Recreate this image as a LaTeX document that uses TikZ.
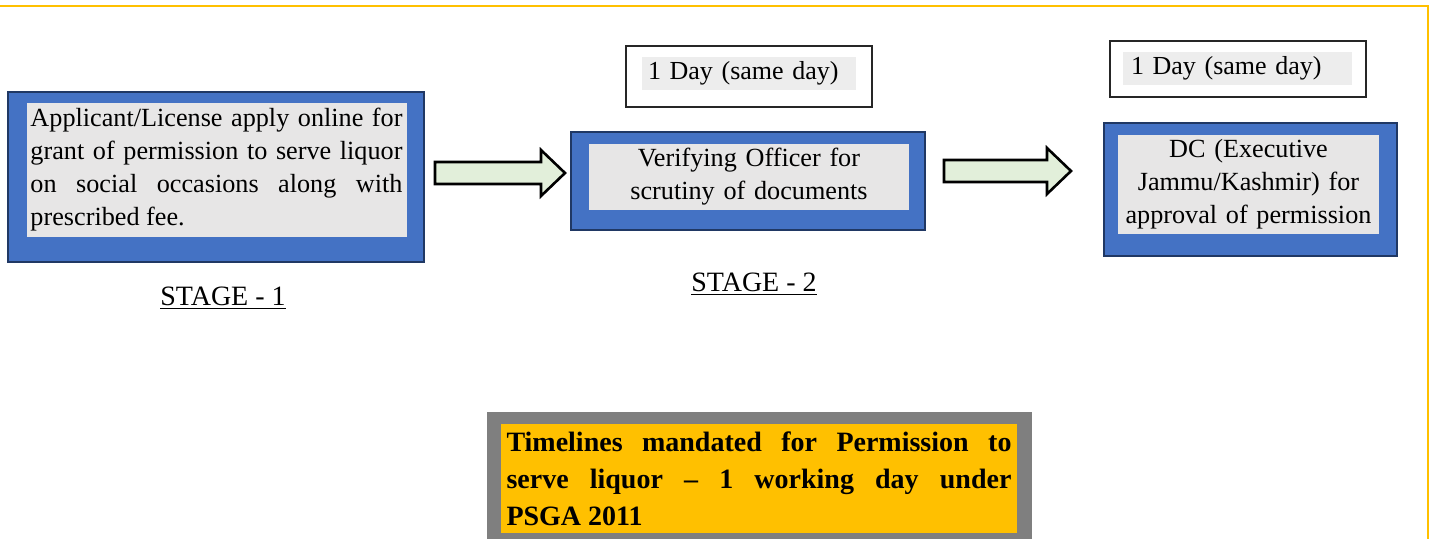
\documentclass[tikz,border=0pt]{standalone}
\usepackage{fontspec}
\setmainfont{Liberation Serif}
\usetikzlibrary{positioning,calc}
\definecolor{boxblue}{HTML}{4472C4}
\definecolor{boxnavy}{HTML}{203864}
\definecolor{boxgrey}{HTML}{E7E6E6}
\definecolor{daygrey}{HTML}{EDEDED}
\definecolor{arrowgreen}{HTML}{E2EFDA}
\definecolor{gold}{HTML}{FFC000}
\definecolor{darkgrey}{HTML}{7F7F7F}

\tikzset{
  stagebox/.style={draw=boxnavy, fill=boxblue, line width=1.2pt, inner sep=0pt},
  stagetext/.style={fill=boxgrey, inner xsep=2pt, inner ysep=0pt,
    font=\fontsize{13.1}{16.5}\selectfont},
  daybox/.style={draw=black!85, line width=0.8pt, inner sep=0pt},
  daytext/.style={fill=daygrey, inner ysep=0pt, align=left,
    font=\fontsize{13}{16.5}\selectfont},
  fatarrow/.style={draw=black, fill=arrowgreen, line width=1.3pt, line join=miter},
  stagelabel/.style={font=\fontsize{14}{17}\selectfont},
  frameline/.style={draw=gold, line width=1pt}
}

\begin{document}
\begin{tikzpicture}[x=0.5pt,y=-0.5pt]
\useasboundingbox (0,0) rectangle (1432,538);
\clip (0,0) rectangle (1432,538);

% frame
\draw[frameline] (0,6) -- (1428,6) -- (1428,540);

% stage 1
\node[stagebox, minimum width=208pt, minimum height=85pt] (s1) at (216,177) {};
\node[stagetext, text width=186pt, minimum height=67pt, align=justify] (s1t) at (216.5,170)
  {Applicant/License apply online for\linebreak grant of permission to serve liquor\linebreak on social occasions along with\linebreak prescribed fee.};
\node[stagelabel] (st1) at (223,298) {\underline{STAGE - 1}};

% stage 2
\node[daybox, minimum width=123pt, minimum height=30.5pt] (d1) at (749,76.5) {};
\node[daytext, text width=101pt, inner xsep=3pt, minimum height=16.5pt] (d1t) at (749,73.5) {1 Day (same day)};
\node[stagebox, minimum width=177pt, minimum height=49pt] (s2) at (748,181) {};
\node[stagetext, text width=156pt, minimum height=33pt, align=center] (s2t) at (749,177)
  {Verifying Officer for\\ scrutiny of documents};
\node[stagelabel] (st2) at (754,284) {\underline{STAGE - 2}};

% stage 3
\node[daybox, minimum width=128pt, minimum height=28pt] (d2) at (1238,69) {};
\node[daytext, text width=106.5pt, inner xsep=4pt, minimum height=16.5pt] (d2t) at (1237.5,68.5) {1 Day (same day)};
\node[stagebox, minimum width=146.5pt, minimum height=66.5pt] (s3) at (1250.5,189.5) {};
\node[stagetext, text width=128pt, inner xsep=1.25pt, minimum height=49.5pt, align=center] (s3t) at (1248.5,184.5)
  {DC (Executive\\ Jammu/Kashmir) for\\ approval of permission};

% arrows
\coordinate (a1s) at (435,173);
\coordinate (a1e) at (565,173);
\coordinate (a2s) at (944,171);
\coordinate (a2e) at (1071,171);
\foreach \a in {a1,a2}
  \draw[fatarrow] ($(\a s)+(0,-11)$) -- ($(\a e)+(-24,-11)$) -- ($(\a e)+(-24,-23)$) -- (\a e)
    -- ($(\a e)+(-24,23)$) -- ($(\a e)+(-24,11)$) -- ($(\a s)+(0,11)$) -- cycle;

% timelines
\node[fill=darkgrey, minimum width=272.5pt, minimum height=64pt, inner sep=0pt] (tl) at (759.5,476) {};
\node[fill=gold, text width=252.5pt, inner xsep=2.75pt, inner ysep=0pt, minimum height=54.5pt,
  align=justify, font=\fontsize{14}{18.5}\selectfont\bfseries] (tlt) at (759,478.5)
  {Timelines mandated for Permission to\linebreak serve liquor -- 1 working day under\linebreak PSGA 2011};
\end{tikzpicture}
\end{document}
